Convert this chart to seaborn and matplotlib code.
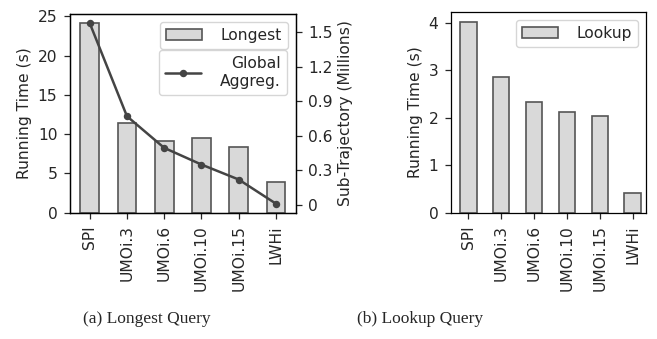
import numpy as np
import pandas as pd
import seaborn as sns
import matplotlib.pyplot as plt

# Data
methods = ['SPI', 'UMOi.3', 'UMOi.6', 'UMOi.10', 'UMOi.15', 'LWHi']
longest_time = [24.1, 11.4, 9.1, 9.5, 8.4, 3.9]
global_aggreg = [1.58, 0.77, 0.495, 0.35, 0.22, 0.01]
lookup_time = [4.02, 2.85, 2.33, 2.11, 2.03, 0.41]
right_ticks = [0, 0.3, 0.6, 0.9, 1.2, 1.5]
right_ticklabels = ['0', '0.3', '0.6', '0.9', '1.2', '1.5']

sns.set_style('ticks')
plt.rcParams['font.family'] = ['DejaVu Sans']
plt.rcParams['font.size'] = 11.2
for a in ('xtick', 'ytick'):
    plt.rcParams[f'{a}.major.size'] = 4.5
    plt.rcParams[f'{a}.major.pad'] = 4.5
    plt.rcParams[f'{a}.major.width'] = 0.9

bar_face = '#d9d9d9'
bar_edge = '#555555'
line_col = '#444444'
fs = 11.2

fig = plt.figure(figsize=(6.57, 3.39), dpi=100)
ax1 = fig.add_axes([0.1065, 0.3726, 0.3435, 0.586])
ax3 = fig.add_axes([0.6865, 0.3726, 0.2963, 0.592])

# (a) Longest query
df_a = pd.DataFrame({'method': methods, 'time': longest_time, 'agg': global_aggreg})
sns.barplot(data=df_a, x='method', y='time', ax=ax1, color=bar_face, width=0.5,
            edgecolor=bar_edge, linewidth=1.2, saturation=1, label='Longest')
ax1.set_ylabel('Running Time (s)', fontsize=fs)
ax1.set_xlabel('')

ax2 = ax1.twinx()
sns.pointplot(data=df_a, x='method', y='agg', ax=ax2, color=line_col, markers='o',
              markersize=4, linewidth=1.8, label='Global\nAggreg.')
ax2.set_yticks(right_ticks)
ax2.set_yticklabels(right_ticklabels)
ax2.set_ylabel('Sub-Trajectory (Millions)', fontsize=fs)
ax2.set_xlabel('')
ax1.set_xlim(-0.53, 5.53)
ax2.set_xlim(-0.53, 5.53)

h1, l1 = ax1.get_legend_handles_labels()
h2, l2 = ax2.get_legend_handles_labels()
if ax1.get_legend() is not None:
    ax1.get_legend().remove()
leg1 = ax2.legend(h1, l1, loc='upper right', handlelength=2.3, handletextpad=1.2,
                  fontsize=fs)
ax2.add_artist(leg1)
leg2 = ax2.legend(h2, l2, loc='upper right', bbox_to_anchor=(0.96, 0.819),
                  borderaxespad=0, handlelength=2.3, handletextpad=1.2, fontsize=fs)
for t in leg2.get_texts():
    t.set_multialignment('right')

# (b) Lookup query
df_b = pd.DataFrame({'method': methods, 'time': lookup_time})
sns.barplot(data=df_b, x='method', y='time', ax=ax3, color=bar_face, width=0.5,
            edgecolor=bar_edge, linewidth=1.2, saturation=1, label='Lookup')
ax3.set_ylabel('Running Time (s)', fontsize=fs)
ax3.set_xlabel('')
ax3.set_xlim(-0.53, 5.4)
ax3.legend(loc='upper right', handlelength=2.3, handletextpad=1.2, fontsize=fs)

for ax in (ax1, ax2, ax3):
    for s in ax.spines.values():
        s.set_visible(True)
        s.set_color('black')
        s.set_linewidth(0.9)
    ax.tick_params(labelsize=fs)
for ax in (ax1, ax3):
    ax.tick_params(axis='x', rotation=90)

fig.text(0.224, 0.059, '(a) Longest Query', ha='center', va='center',
         family='Liberation Serif', fontsize=12.5)
fig.text(0.639, 0.059, '(b) Lookup Query', ha='center', va='center',
         family='Liberation Serif', fontsize=12.5)

fig.savefig('out.png', dpi=100)
